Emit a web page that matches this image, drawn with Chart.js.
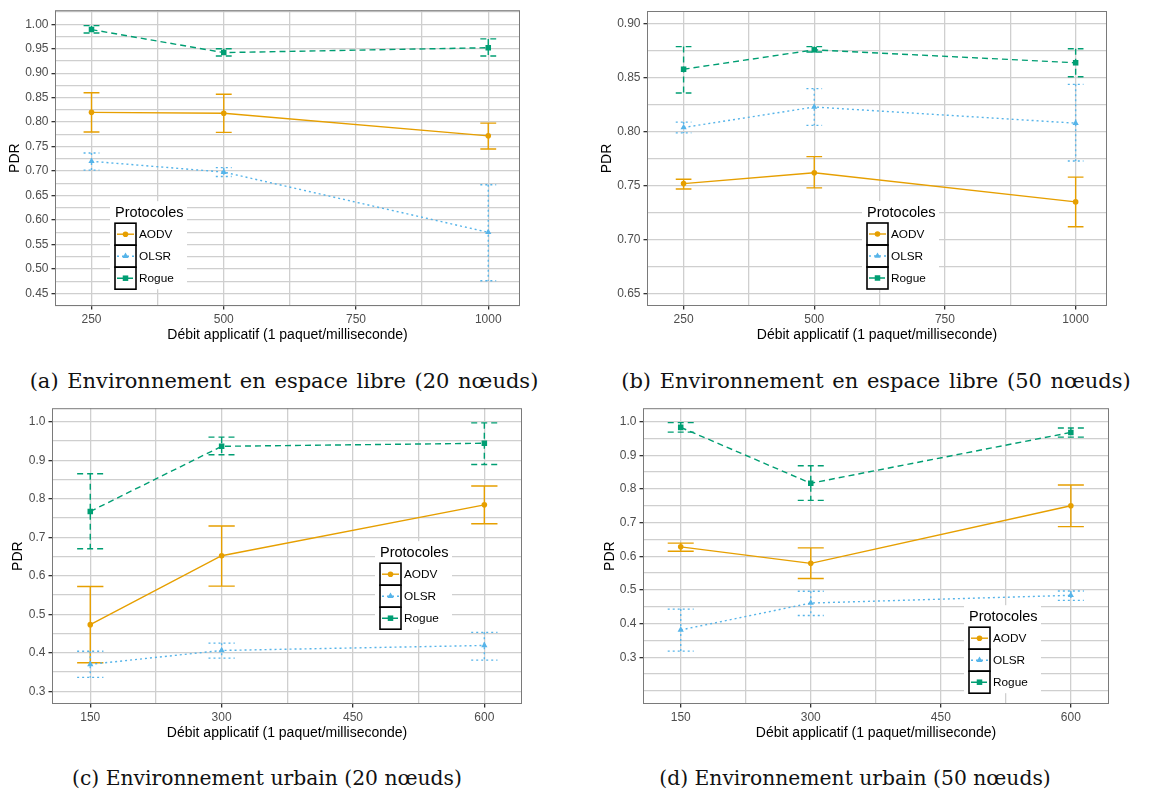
<!DOCTYPE html>
<html>
<head>
<meta charset="utf-8">
<script src="https://cdn.jsdelivr.net/npm/chart.js@4"></script>
<style>
  body { margin: 0; background: #fff; width: 1156px; height: 794px; position: relative; overflow: hidden; }
  .panel { position: absolute; height: 346px; }
  .cap { position: absolute; width: 600px; text-align: center; font-family: "DejaVu Serif", serif; font-size: 20.3px; line-height: 24px; color: #111; white-space: nowrap; }
  .top { font-size: 21px; word-spacing: 2px; }
</style>
</head>
<body>
<div class="panel" style="left:0;top:0;width:525px"><canvas id="chartA"></canvas></div>
<div class="panel" style="left:590px;top:0;width:522px"><canvas id="chartB"></canvas></div>
<div class="panel" style="left:0;top:398px;width:527px"><canvas id="chartC"></canvas></div>
<div class="panel" style="left:590px;top:398px;width:524px"><canvas id="chartD"></canvas></div>

<div class="cap top" style="left:-16px;top:369px">(a) Environnement en espace libre (20 nœuds)</div>
<div class="cap top" style="left:576px;top:369px">(b) Environnement en espace libre (50 nœuds)</div>
<div class="cap" style="left:-33px;top:766px">(c) Environnement urbain (20 nœuds)</div>
<div class="cap" style="left:555px;top:766px">(d) Environnement urbain (50 nœuds)</div>

<script>
// débits testés
const debitLibre = [250, 500, 1000];
const debitUrbain = [150, 300, 600];

// [moyenne, min, max] pour chaque débit
const libre20_AODV  = [[0.820, 0.780, 0.860], [0.818, 0.779, 0.857], [0.772, 0.745, 0.798]];
const libre20_OLSR  = [[0.720, 0.702, 0.737], [0.698, 0.689, 0.707], [0.575, 0.476, 0.672]];
const libre20_Rogue = [[0.989, 0.982, 0.997], [0.942, 0.935, 0.950], [0.952, 0.935, 0.970]];

const libre50_AODV  = [[0.752, 0.747, 0.756], [0.762, 0.748, 0.777], [0.735, 0.712, 0.758]];
const libre50_OLSR  = [[0.804, 0.799, 0.809], [0.823, 0.806, 0.840], [0.808, 0.773, 0.844]];
const libre50_Rogue = [[0.858, 0.836, 0.879], [0.876, 0.874, 0.879], [0.864, 0.851, 0.877]];

const urbain20_AODV  = [[0.473, 0.374, 0.572], [0.652, 0.573, 0.729], [0.784, 0.735, 0.833]];
const urbain20_OLSR  = [[0.370, 0.336, 0.404], [0.406, 0.386, 0.425], [0.419, 0.381, 0.453]];
const urbain20_Rogue = [[0.767, 0.670, 0.865], [0.936, 0.914, 0.960], [0.944, 0.889, 0.997]];

const urbain50_AODV  = [[0.628, 0.615, 0.639], [0.579, 0.534, 0.625], [0.750, 0.688, 0.812]];
const urbain50_OLSR  = [[0.381, 0.318, 0.443], [0.461, 0.424, 0.496], [0.484, 0.469, 0.497]];
const urbain50_Rogue = [[0.983, 0.969, 0.997], [0.817, 0.766, 0.869], [0.968, 0.954, 0.981]];

// graduations
const xTicksLibre  = [250, 500, 750, 1000];
const xMinorLibre  = [375, 625, 875];
const xTicksUrbain = [150, 300, 450, 600];
const xMinorUrbain = [225, 375, 525];

const yTicksA = [0.45, 0.50, 0.55, 0.60, 0.65, 0.70, 0.75, 0.80, 0.85, 0.90, 0.95, 1.00];
const yMinorA = [0.425, 0.475, 0.525, 0.575, 0.625, 0.675, 0.725, 0.775, 0.825, 0.875, 0.925, 0.975, 1.025];
const yTicksB = [0.65, 0.70, 0.75, 0.80, 0.85, 0.90];
const yMinorB = [0.675, 0.725, 0.775, 0.825, 0.875];
const yTicksC = [0.3, 0.4, 0.5, 0.6, 0.7, 0.8, 0.9, 1.0];
const yMinorC = [0.35, 0.45, 0.55, 0.65, 0.75, 0.85, 0.95];
const yTicksD = [0.3, 0.4, 0.5, 0.6, 0.7, 0.8, 0.9, 1.0];
const yMinorD = [0.2, 0.25, 0.35, 0.45, 0.55, 0.65, 0.75, 0.85, 0.95];

const protocols = ['AODV', 'OLSR', 'Rogue'];
const colors = ['#E69F00', '#56B4E9', '#009E73'];
const dashes = [[], [2, 3], [6, 4]];
const markers = ['circle', 'triangle', 'rect'];
const markerSize = [2.8, 3.6, 3.9];

const sans = 'Liberation Sans, Arial, sans-serif';
const gridColor = '#cfcfcf';
const capHalf = 15;

function series(i, x, vals) {
  return {
    label: protocols[i],
    data: x.map((v, k) => ({ x: v, y: vals[k][0], lo: vals[k][1], hi: vals[k][2] })),
    borderColor: colors[i],
    backgroundColor: colors[i],
    borderWidth: 1.4,
    borderDash: dashes[i],
    pointStyle: markers[i],
    pointRadius: markerSize[i],
    pointBorderWidth: 0,
    tension: 0,
    fill: false
  };
}

// barres d'erreur
const errorBars = {
  id: 'errorBars',
  beforeDatasetsDraw(chart) {
    const { ctx, scales: { x, y } } = chart;
    chart.data.datasets.forEach(ds => {
      ctx.save();
      ctx.strokeStyle = ds.borderColor;
      ctx.lineWidth = ds.borderWidth;
      ctx.setLineDash(ds.borderDash);
      ds.data.forEach(p => {
        const px = x.getPixelForValue(p.x);
        const l = x.getPixelForValue(p.x - capHalf), r = x.getPixelForValue(p.x + capHalf);
        const top = y.getPixelForValue(p.hi), bot = y.getPixelForValue(p.lo);
        ctx.beginPath();
        ctx.moveTo(l, top); ctx.lineTo(r, top);
        ctx.moveTo(px, top); ctx.lineTo(px, bot);
        ctx.moveTo(l, bot); ctx.lineTo(r, bot);
        ctx.stroke();
      });
      ctx.restore();
    });
  },
  afterDatasetsDraw(chart) {
    const { ctx, chartArea: a } = chart;
    ctx.save();
    ctx.strokeStyle = '#7a7a7a';
    ctx.lineWidth = 1;
    ctx.strokeRect(a.left + 0.5, a.top + 0.5, a.right - a.left - 1, a.bottom - a.top - 1);
    ctx.restore();
  }
};

// légende façon ggplot
const boxLegend = {
  id: 'boxLegend',
  afterDraw(chart, args, opts) {
    const { ctx, chartArea: a } = chart;
    const bx = a.left + opts.dx, by = a.top + opts.dy;
    ctx.save();
    ctx.fillStyle = '#fff';
    ctx.fillRect(bx, by, 77, 88);
    ctx.fillStyle = '#000';
    ctx.font = '14.5px ' + sans;
    ctx.textBaseline = 'middle';
    ctx.fillText('Protocoles', bx + 5, by + 12);
    chart.data.datasets.forEach((ds, i) => {
      const kx = bx + 5, ky = by + 22 + i * 22;
      ctx.setLineDash([]);
      ctx.strokeStyle = '#000';
      ctx.lineWidth = 1.6;
      ctx.strokeRect(kx, ky, 21, 22);
      ctx.strokeStyle = ds.borderColor;
      ctx.lineWidth = ds.borderWidth;
      ctx.setLineDash(ds.borderDash);
      ctx.beginPath();
      ctx.moveTo(kx + 2, ky + 11);
      ctx.lineTo(kx + 19, ky + 11);
      ctx.stroke();
      ctx.setLineDash([]);
      ctx.fillStyle = ds.borderColor;
      Chart.helpers.drawPoint(ctx, { pointStyle: ds.pointStyle, radius: ds.pointRadius, borderWidth: 0, rotation: 0 }, kx + 10.5, ky + 11);
      ctx.fillStyle = '#000';
      ctx.font = '11.8px ' + sans;
      ctx.fillText(ds.label, kx + 24, ky + 11.5);
    });
    ctx.restore();
  }
};

function makeChart(id, p) {
  const xAll = p.xTicks.concat(p.xMinor).sort((m, n) => m - n);
  const yAll = p.yTicks.concat(p.yMinor).sort((m, n) => m - n);
  return new Chart(document.getElementById(id), {
    type: 'line',
    data: {
      datasets: [series(0, p.x, p.aodv), series(1, p.x, p.olsr), series(2, p.x, p.rogue)]
    },
    options: {
      responsive: true,
      maintainAspectRatio: false,
      animation: false,
      layout: { padding: { top: p.top, right: 5, left: 0, bottom: 0 } },
      plugins: {
        legend: { display: false },
        tooltip: { enabled: false },
        boxLegend: { dx: p.legend[0], dy: p.legend[1] }
      },
      scales: {
        x: {
          type: 'linear',
          min: p.xMin,
          max: p.xMax,
          afterBuildTicks: axis => { axis.ticks = xAll.map(v => ({ value: v })); },
          afterFit: s => { s.height = 40; },
          border: { display: false },
          grid: {
            color: gridColor,
            lineWidth: 1.3,
            tickLength: 3.5,
            tickColor: c => p.xTicks.includes(c.tick.value) ? '#333' : 'rgba(0,0,0,0)'
          },
          ticks: {
            autoSkip: false,
            maxRotation: 0,
            padding: 3,
            color: '#4d4d4d',
            font: { family: sans, size: 12 },
            callback: v => p.xTicks.includes(v) ? String(v) : ''
          },
          title: {
            display: true,
            text: 'Débit applicatif (1 paquet/milliseconde)',
            color: '#000',
            font: { family: sans, size: 14 },
            padding: { top: 0, bottom: 2.5 }
          }
        },
        y: {
          type: 'linear',
          min: p.yMin,
          max: p.yMax,
          afterBuildTicks: axis => { axis.ticks = yAll.map(v => ({ value: v })); },
          afterFit: s => { s.width = p.yWidth; },
          border: { display: false },
          grid: {
            color: gridColor,
            lineWidth: 1.3,
            tickLength: 3.5,
            tickColor: c => p.yTicks.includes(c.tick.value) ? '#333' : 'rgba(0,0,0,0)'
          },
          ticks: {
            autoSkip: false,
            padding: 3,
            color: '#4d4d4d',
            font: { family: sans, size: 12 },
            callback: v => p.yTicks.includes(v) ? v.toFixed(p.dec) : ''
          },
          title: {
            display: true,
            text: 'PDR',
            color: '#000',
            font: { family: sans, size: 14 },
            padding: { top: p.titlePad, bottom: 0 }
          }
        }
      }
    },
    plugins: [errorBars, boxLegend]
  });
}

makeChart('chartA', {
  x: debitLibre, aodv: libre20_AODV, olsr: libre20_OLSR, rogue: libre20_Rogue,
  xTicks: xTicksLibre, xMinor: xMinorLibre, xMin: 181, xMax: 1060,
  yTicks: yTicksA, yMinor: yMinorA, yMin: 0.4245, yMax: 1.0286, dec: 2,
  top: 10, yWidth: 55, titlePad: 6.6, legend: [55, 191]
});
makeChart('chartB', {
  x: debitLibre, aodv: libre50_AODV, olsr: libre50_OLSR, rogue: libre50_Rogue,
  xTicks: xTicksLibre, xMinor: xMinorLibre, xMin: 180, xMax: 1060,
  yTicks: yTicksB, yMinor: yMinorB, yMin: 0.6385, yMax: 0.912, dec: 2,
  top: 11, yWidth: 57, titlePad: 8.3, legend: [215, 190]
});
makeChart('chartC', {
  x: debitUrbain, aodv: urbain20_AODV, olsr: urbain20_OLSR, rogue: urbain20_Rogue,
  xTicks: xTicksUrbain, xMinor: xMinorUrbain, xMin: 106.3, xMax: 643,
  yTicks: yTicksC, yMinor: yMinorC, yMin: 0.267, yMax: 1.035, dec: 1,
  top: 10, yWidth: 52, titlePad: 10, legend: [323, 133]
});
makeChart('chartD', {
  x: debitUrbain, aodv: urbain50_AODV, olsr: urbain50_OLSR, rogue: urbain50_Rogue,
  xTicks: xTicksUrbain, xMinor: xMinorUrbain, xMin: 106.5, xMax: 644,
  yTicks: yTicksD, yMinor: yMinorD, yMin: 0.161, yMax: 1.04, dec: 1,
  top: 10, yWidth: 53, titlePad: 11.6, legend: [321, 197]
});
</script>
</body>
</html>
